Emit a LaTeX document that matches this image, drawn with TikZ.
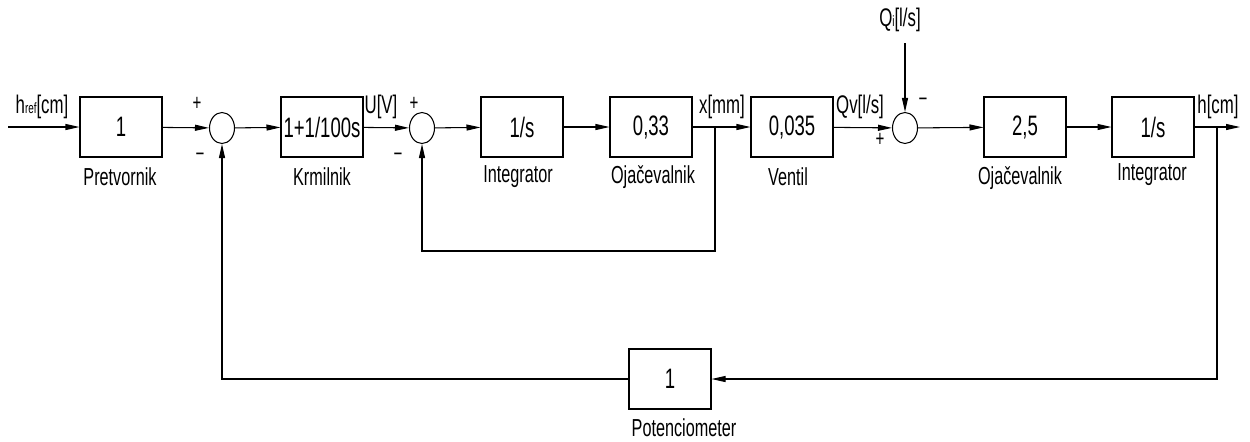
\documentclass[tikz,border=0pt]{standalone}
\usepackage{fontspec}
\setmainfont[FakeStretch=0.66]{Liberation Sans}
\usetikzlibrary{shapes.geometric, arrows.meta}
\tikzset{
    block/.style={draw, rectangle, minimum width=1.64cm, minimum height=1.2cm, inner sep=0pt, font=\fontsize{16}{18}\selectfont},
    sumnode/.style={draw, ellipse, minimum width=0.5cm, minimum height=0.62cm, inner sep=0pt},
    caption/.style={inner sep=0pt, font=\fontsize{14}{16}\selectfont},
    sig/.style={inner sep=0pt, font=\fontsize{14.5}{16}\selectfont},
    sgn/.style={inner sep=0pt, font=\fontsize{13}{14}\selectfont},
    arrow/.style={-{Triangle[length=0.28cm, width=0.12cm]}}
}
\newcommand{\sub}[1]{{\fontsize{8.5}{9}\selectfont #1}}

\begin{document}
\begin{tikzpicture}[x=0.02cm, y=-0.02cm, line width=0.6pt]
\useasboundingbox (0,0) rectangle (1250,441);
% forward path
\node[block] (pret) at (121,127) {1};
\node[sumnode] (sum1) at (222,128) {};
\node[block] (krm) at (322,127) {1+1/100s};
\node[sumnode] (sum2) at (422,128) {};
\node[block] (intA) at (522,127) {1/s};
\node[block] (ojaA) at (651,127) {0,33};
\node[block] (vent) at (792,127) {0,035};
\node[sumnode] (sum3) at (905,128) {};
\node[block] (ojaB) at (1025,127) {2,5};
\node[block] (intB) at (1153,127) {1/s};
\node[block] (pot) at (670,379) {1};
\coordinate (in) at (8,127);
\coordinate (brA) at (715,127);
\coordinate (brB) at (1217,127);
\coordinate (out) at (1240,127);
\coordinate (qi) at (905,43);
% connectors
\draw[arrow] (in) -- (pret);
\draw[arrow] (pret) -- (sum1);
\draw[arrow] (sum1) -- (krm);
\draw[arrow] (krm) -- (sum2);
\draw[arrow] (sum2) -- (intA);
\draw[arrow] (intA) -- (ojaA);
\draw[arrow] (ojaA) -- (vent);
\draw[arrow] (vent) -- (sum3);
\draw[arrow] (qi) -- (sum3);
\draw[arrow] (sum3) -- (ojaB);
\draw[arrow] (ojaB) -- (intB);
\draw[arrow] (intB) -- (out);
% feedback loops
\draw[arrow] (brA) -- (715,251) -| (sum2.south);
\draw[arrow] (brB) |- (pot.east);
\draw[arrow] (pot.west) -| (sum1.south);
% signal names
\node[sig] (lhref) at (42,107) {h\sub{ref}[cm]};
\node[sig] (lu) at (381,107) {U[V]};
\node[sig] (lx) at (722,107) {x[mm]};
\node[sig] (lqv) at (860,107) {Qv[l/s]};
\node[sig] (lqi) at (900,20) {Q\sub{i}[l/s]};
\node[sig] (lh) at (1218,107) {h[cm]};
% signs
\node[sgn] (p1) at (197,104) {+};
\node[sgn] (m1) at (200,157) {−};
\node[sgn] (p2) at (414,104) {+};
\node[sgn] (m2) at (398,157) {−};
\node[sgn] (m3) at (923,102) {−};
\node[sgn] (p3) at (880,140) {+};
% captions
\node[caption] (cpret) at (120,177) {Pretvornik};
\node[caption] (ckrm) at (322,177) {Krmilnik};
\node[caption] (cintA) at (518,177) {Integrator};
\node[caption] (cojaA) at (653,177) {Ojačevalnik};
\node[caption] (cvent) at (788,177) {Ventil};
\node[caption] (cojaB) at (1020,178) {Ojačevalnik};
\node[caption] (cintB) at (1152,175) {Integrator};
\node[caption, anchor=base] (cpot) at (684,436) {Potenciometer};
\end{tikzpicture}
\end{document}
